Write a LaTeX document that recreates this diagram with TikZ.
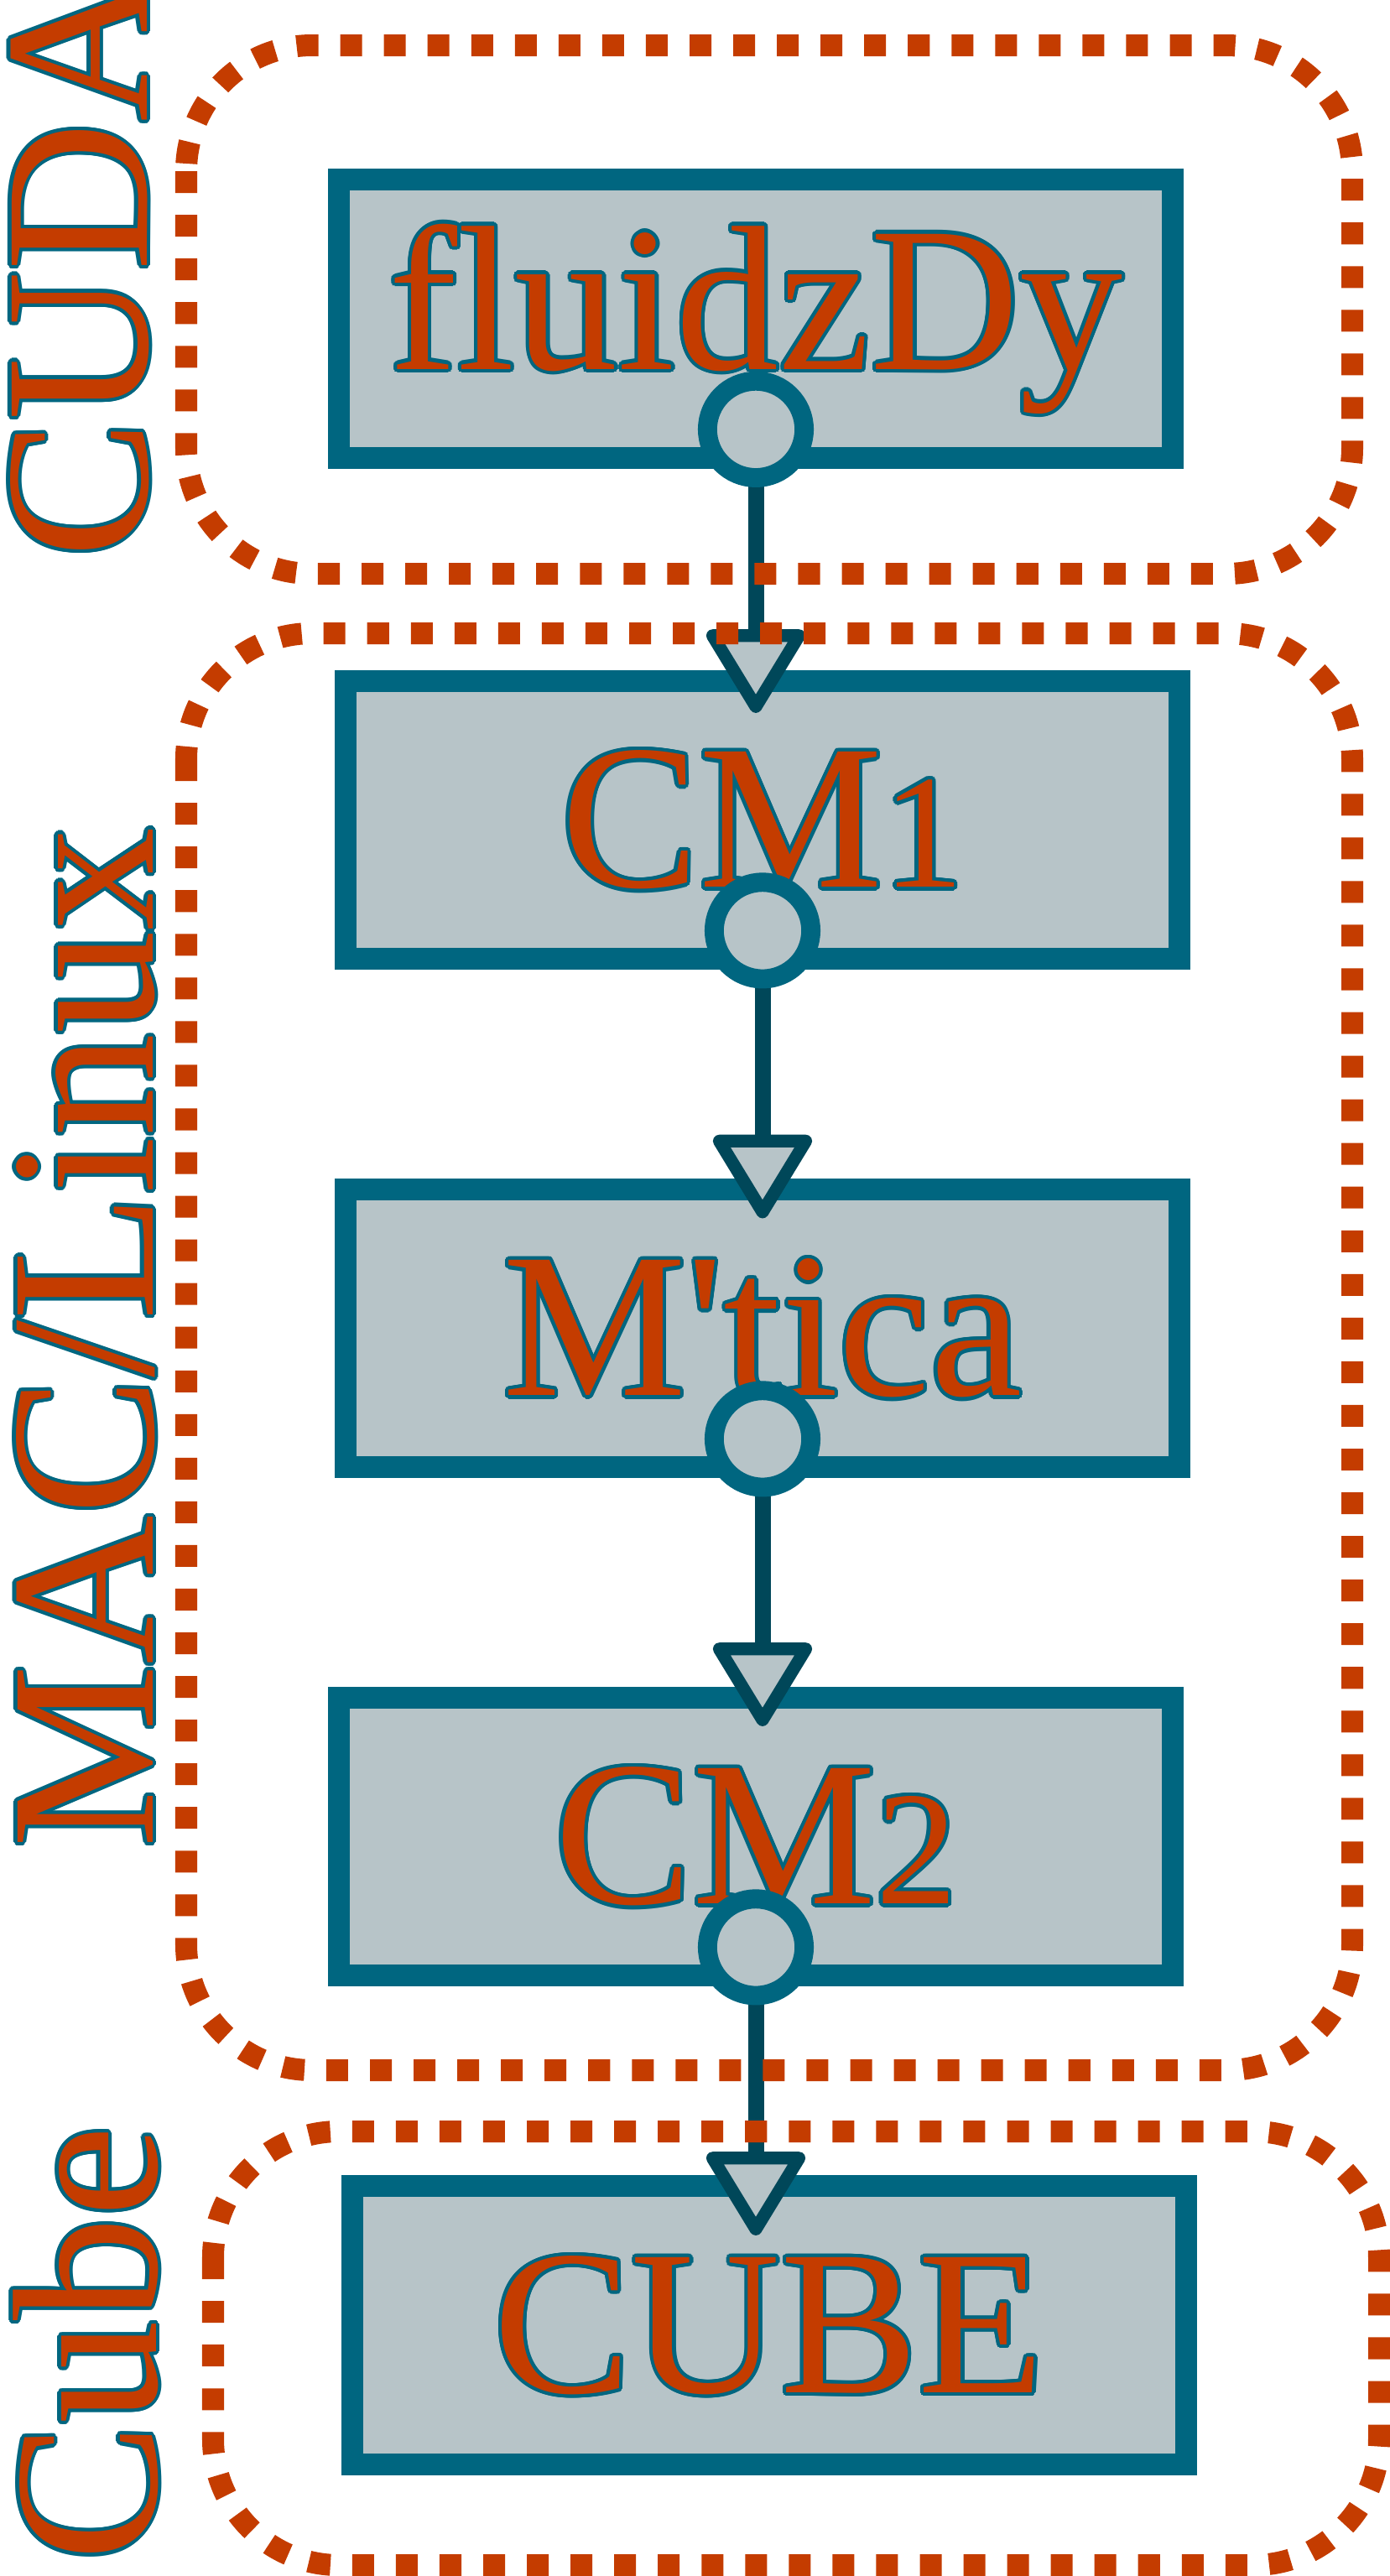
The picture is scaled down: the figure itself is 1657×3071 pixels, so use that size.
\documentclass[tikz,border=0pt]{standalone}
\usepackage{fontspec}
\setmainfont{Liberation Serif}
\usetikzlibrary{arrows.meta}
\definecolor{boxteal}{RGB}{0,102,128}
\definecolor{boxfill}{RGB}{183,196,200}
\definecolor{flowdark}{RGB}{0,71,89}
\definecolor{rust}{RGB}{196,60,0}
\newlength\outw
\setlength\outw{1.2pt}
\newcommand\osf[1]{{\fontsize{55}{60}\selectfont #1}}
\newcommand\outlined[1]{\leavevmode
  \foreach \dx/\dy in {1/0,.92/.38,.71/.71,.38/.92,0/1,-.38/.92,-.71/.71,-.92/.38,-1/0,-.92/-.38,-.71/-.71,-.38/-.92,0/-1,.38/-.92,.71/-.71,.92/-.38}%
    {\rlap{\hspace{\dx\outw}\raisebox{\dy\outw}{\color{boxteal}#1}}}%
  {\color{rust}#1}}
\tikzset{
  stage/.style={draw=boxteal, fill=boxfill, line width=7.4pt, minimum width=9.94cm, minimum height=3.31cm, inner sep=0pt, font=\fontsize{70}{84}\selectfont},
  group/.style={draw=rust, line width=7.4pt, dash pattern=on 7.4pt off 7.4pt, rounded corners=1.5cm},
  side/.style={rotate=90, inner sep=0pt, font=\fontsize{70}{84}\selectfont},
  flow/.style={draw=flowdark, line width=5.4pt, shorten <=-1.157cm,
    {Circle[length=1.38cm, width=1.38cm, line width'=6.5pt, color=boxteal, fill=boxfill]}-{Triangle[length=1.07cm, width=1.26cm, line width'=4.3pt, fill=boxfill, round]}}
}
\begin{document}
\begin{tikzpicture}[x=0.01cm, y=-0.01cm]
	\useasboundingbox (0,0) rectangle (1657,3071);
	%--stages
	\node[stage] (fluidzdy) at (901,380) {\outlined{fluidzDy}};
	\node[stage] (cmone) at (909,977.5) {\outlined{CM\osf{1}}};
	\node[stage] (mtica) at (909,1583.5) {\outlined{M\textquotesingle tica}};
	\node[stage] (cmtwo) at (901,2189.5) {\outlined{CM\osf{2}}};
	\node[stage] (cube) at (917,2772) {\outlined{CUBE}};
	
	%--arrows between stages
	\foreach \src/\dst/\dip in {fluidzdy/cmone/0.51, cmone/mtica/0.475, mtica/cmtwo/0.47, cmtwo/cube/0.715}
		\draw[flow, shorten >=-\dip cm] (\src.south) -- (\src.south |- \dst.north);
	
	%--platform groups
	\draw[group] (222,54) rectangle (1612,684);
	\draw[group] (222,755) rectangle (1612,2468);
	\draw[group] (254,2541) rectangle (1644,3058);
	
	%--side labels
	\node[side, anchor=base west] (cudalabel) at (175,666) {\outlined{CUDA}};
	\node[side, anchor=base west] (maclabel) at (182,2204) {\outlined{MAC/Linux}};
	\node[side, anchor=base] (cubelabel) at (186,2794) {\outlined{Cube}};
\end{tikzpicture}
\end{document}
